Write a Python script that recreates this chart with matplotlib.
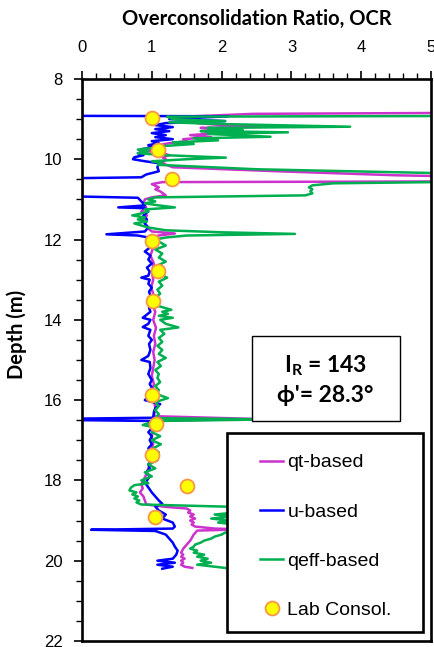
import numpy as np
import matplotlib
matplotlib.use("Agg")
import matplotlib.pyplot as plt
from matplotlib.patches import Rectangle
from matplotlib.ticker import MultipleLocator
from matplotlib.lines import Line2D

plt.rcParams['font.family'] = ['Liberation Sans', 'DejaVu Sans']
plt.rcParams['mathtext.fontset'] = 'custom'
plt.rcParams['mathtext.rm'] = 'Lato'
plt.rcParams['mathtext.bf'] = 'Lato:bold'

# u-based
u_depth = [8.0, 8.92, 8.93, 9.0, 9.05, 9.1, 9.15, 9.2, 9.25, 9.3, 9.35, 9.4, 9.45, 9.5,
           9.55, 9.6, 9.65, 9.7, 9.75, 9.8, 9.85, 9.9, 9.95, 10.0, 10.05, 10.1, 10.2,
           10.3, 10.38, 10.45, 10.47, 10.93, 10.96, 11.05, 11.15, 11.2, 11.22, 11.3,
           11.4, 11.5, 11.6, 11.7, 11.8, 11.87, 11.9, 11.95, 12.0, 12.1, 12.2, 12.3,
           12.4, 12.5, 12.6, 12.7, 12.8, 12.9, 12.95, 13.0, 13.1, 13.2, 13.3, 13.4,
           13.5, 13.6, 13.7, 13.8, 13.95, 14.0, 14.1, 14.18, 14.25, 14.4, 14.5, 14.6,
           14.75, 14.9, 15.0, 15.05, 15.2, 15.35, 15.5, 15.6, 15.75, 15.9, 16.0, 16.1,
           16.2, 16.3, 16.44, 16.46, 16.5, 16.52, 16.6, 16.7, 16.8, 16.9, 17.0, 17.1,
           17.2, 17.3, 17.4, 17.5, 17.6, 17.7, 17.8, 17.9, 18.0, 18.1, 18.2, 18.3,
           18.4, 18.5, 18.58, 18.65, 18.75, 18.85, 18.95, 19.05, 19.15, 19.2, 19.23,
           19.26, 19.35, 19.45, 19.55, 19.65, 19.75, 19.85, 19.95, 20.0, 20.05, 20.1,
           20.15, 20.2]
u_ocr = [0.0, 0.0, 2.1, 1.25, 2.05, 1.2, 1.05, 1.3, 1.05, 1.25, 1.0, 1.2, 1.05, 1.3,
         1.0, 1.1, 0.95, 1.05, 0.85, 0.92, 0.8, 0.88, 0.75, 0.73, 0.9, 1.1, 1.08,
         1.1, 0.92, 0.85, 0.0, 0.0, 0.8, 0.85, 0.9, 0.52, 0.9, 0.95,
         0.88, 0.93, 0.9, 0.95, 0.9, 0.35, 0.8, 0.95, 0.97, 0.95, 0.97, 0.9,
         0.98, 0.95, 1.0, 0.93, 0.97, 0.95, 0.85, 0.97, 0.95, 1.0, 0.96, 0.98,
         0.97, 1.0, 0.96, 0.98, 0.87, 0.98, 0.95, 0.87, 0.98, 0.95, 1.0, 0.96,
         0.98, 0.95, 0.85, 0.97, 0.98, 0.95, 1.0, 0.97, 1.02, 0.96, 0.9, 1.12,
         1.05, 1.03, 1.02, 0.0, 0.0, 1.0, 0.97, 1.0, 0.95, 1.0, 0.97, 1.0,
         0.95, 0.98, 0.96, 1.0, 0.95, 0.97, 0.92, 0.97, 0.93, 0.92, 0.96, 1.0,
         1.05, 1.1, 1.15, 1.05, 1.1, 1.2, 1.15, 1.3, 1.33, 1.3, 0.13,
         1.05, 1.2, 1.25, 1.3, 1.33, 1.37, 1.35, 1.3, 1.08, 1.33, 1.08,
         1.3, 1.15]

# qt-based
qt_depth = [8.84, 8.87, 8.93, 9.0, 9.05, 9.1, 9.15, 9.19, 9.22, 9.26, 9.3, 9.35, 9.4,
            9.45, 9.5, 9.55, 9.6, 9.65, 9.7, 9.75, 9.8, 9.85, 9.9, 9.95, 10.0, 10.1,
            10.2, 10.3, 10.4, 10.45, 10.55, 10.57, 10.62, 10.7, 10.75, 10.8, 10.9,
            10.95, 11.0, 11.1, 11.2, 11.3, 11.4, 11.5, 11.6, 11.7, 11.8, 11.85, 11.9,
            11.95, 12.0, 12.2, 12.4, 12.6, 12.8, 13.0, 13.2, 13.4, 13.6, 13.8, 14.0,
            14.2, 14.4, 14.6, 14.8, 15.0, 15.2, 15.4, 15.6, 15.8, 16.0, 16.2, 16.4,
            16.47, 16.52, 16.7, 16.9, 17.1, 17.3, 17.5, 17.7, 17.85, 18.0, 18.1, 18.2,
            18.3, 18.4, 18.5, 18.6, 18.66, 18.7, 18.75, 18.8, 18.85, 18.9, 18.95, 19.0,
            19.05, 19.1, 19.15, 19.2, 19.22, 19.25, 19.35, 19.5, 19.6, 19.7, 19.8,
            19.85, 19.9, 19.95, 20.0, 20.05, 20.1, 20.15, 20.18]
qt_ocr = [6.0, 2.45, 1.6, 1.6, 1.75, 1.65, 2.0, 2.55, 1.7, 2.1, 1.75, 1.95, 1.55,
          1.85, 1.45, 1.5, 1.25, 1.1, 0.95, 1.05, 0.95, 1.15, 1.25, 1.15, 1.2, 1.15,
          1.3, 2.8, 4.5, 6.0, 6.0, 1.15, 1.0, 1.1, 1.05, 1.12, 1.2,
          1.0, 0.9, 0.88, 0.92, 0.85, 0.93, 0.88, 0.9, 0.93, 1.0, 1.33, 1.1,
          1.0, 1.0, 1.02, 0.98, 1.03, 1.0, 1.02, 0.99, 1.03, 1.0, 1.05, 1.02,
          1.06, 1.03, 1.05, 1.02, 1.04, 1.02, 1.0, 1.03, 1.0, 1.03, 1.05, 1.03,
          2.5, 1.0, 1.02, 1.0, 1.02, 0.98, 1.0, 0.95, 0.92, 0.88, 0.85, 0.87,
          0.83, 0.88, 0.9, 0.92, 1.2, 1.5, 1.55, 1.52, 1.6, 1.55, 1.62, 1.55,
          1.6, 1.57, 1.62, 1.9, 2.3, 1.65, 1.6, 1.55, 1.5, 1.45, 1.42,
          1.45, 1.42, 1.47, 1.42, 1.45, 1.42, 1.47, 1.58]

# qeff-based
qe_depth = [8.88, 8.92, 8.94, 9.0, 9.05, 9.08, 9.12, 9.19, 9.22, 9.27, 9.3, 9.33, 9.37,
            9.44, 9.48, 9.53, 9.58, 9.62, 9.68, 9.72, 9.76, 9.8, 9.85, 9.9, 9.96, 10.0,
            10.05, 10.1, 10.14, 10.25, 10.38, 10.55, 10.6, 10.65, 10.7, 10.75, 10.8,
            10.85, 10.9, 10.95, 11.0, 11.05, 11.1, 11.15, 11.2, 11.25, 11.3, 11.35,
            11.4, 11.45, 11.5, 11.55, 11.6, 11.65, 11.7, 11.77, 11.82, 11.86, 11.9,
            11.95, 12.0, 12.05, 12.15, 12.25, 12.35, 12.45, 12.55, 12.65, 12.75, 12.85,
            12.95, 13.05, 13.15, 13.25, 13.35, 13.45, 13.55, 13.65, 13.75, 13.8, 13.85,
            13.9, 13.95, 14.0, 14.1, 14.19, 14.25, 14.35, 14.45, 14.55, 14.65, 14.75,
            14.85, 14.95, 15.05, 15.15, 15.25, 15.35, 15.45, 15.55, 15.65, 15.75,
            15.85, 15.95, 16.05, 16.15, 16.25, 16.35, 16.45, 16.48, 16.52, 16.62,
            16.7, 16.8, 16.9, 17.0, 17.1, 17.2, 17.3, 17.4, 17.5, 17.6, 17.7, 17.8,
            17.9, 18.0, 18.07, 18.12, 18.18, 18.25, 18.3, 18.35, 18.4, 18.45, 18.5,
            18.55, 18.6, 18.63, 18.66, 18.7, 18.75, 18.8, 18.85, 18.9, 18.95, 19.0,
            19.05, 19.1, 19.15, 19.2, 19.25, 19.3, 19.35, 19.4, 19.45, 19.5, 19.55,
            19.6, 19.65, 19.7, 19.75, 19.8, 19.85, 19.9, 19.95, 20.0, 20.05, 20.1,
            20.15, 20.18]
qe_ocr = [6.0, 6.0, 1.22, 1.3, 2.05, 1.25, 1.9, 3.84, 1.8, 2.3, 1.7, 2.95, 1.8,
          2.7, 1.6, 1.95, 1.3, 1.6, 1.1, 1.0, 0.8, 0.95, 0.8, 1.2, 2.06, 1.5,
          1.0, 1.15, 1.09, 2.5, 6.0, 6.0, 3.6, 3.3, 3.25, 3.3, 3.27,
          3.3, 3.2, 1.05, 0.95, 1.05, 0.9, 1.1, 1.33, 0.9, 0.95, 0.85,
          0.72, 0.9, 0.8, 0.93, 0.75, 0.85, 0.95, 1.2, 2.0, 3.05, 1.5,
          1.2, 1.05, 1.1, 1.2, 1.05, 1.15, 1.1, 1.2, 1.08, 1.15, 1.1,
          1.22, 1.1, 1.15, 1.08, 1.12, 1.05, 1.1, 1.08, 1.28, 1.15, 1.23,
          1.1, 1.3, 1.12, 1.2, 1.38, 1.12, 1.18, 1.1, 1.15, 1.08, 1.15,
          1.1, 1.2, 1.08, 1.13, 1.05, 1.1, 1.08, 1.12, 1.05, 1.1,
          1.07, 1.23, 1.05, 1.1, 1.05, 1.1, 1.05, 2.8, 1.05, 0.87,
          1.1, 1.0, 1.12, 1.0, 1.13, 1.02, 1.1, 1.0, 1.08, 0.95, 1.05, 0.9,
          1.0, 0.85, 0.95, 0.75, 0.7, 0.68, 0.78, 0.72, 0.8, 0.75, 0.82,
          0.78, 0.85, 1.5, 2.2, 2.3, 2.1, 2.2, 1.9, 2.15, 1.85, 2.1,
          1.95, 2.2, 2.1, 2.3, 2.4, 2.05, 2.0, 1.9, 1.85, 1.75, 1.7,
          1.62, 1.6, 1.55, 1.65, 1.6, 1.75, 1.65, 1.8, 1.7, 1.85, 1.65,
          1.9, 2.05]

# Lab consolidation tests
lab_depth = [8.97, 9.77, 10.49, 12.04, 12.79, 13.54, 15.88, 16.6, 17.37, 18.15, 18.92]
lab_ocr = [1.0, 1.09, 1.29, 1.0, 1.09, 1.02, 1.0, 1.06, 1.0, 1.5, 1.05]

fig = plt.figure(figsize=(4.35, 6.47), dpi=100)
ax = fig.add_axes([0.1885, 0.0093, 0.8025, 0.8687])

c_qt = '#CC33CC'
c_u = '#0000FF'
c_qe = '#00B050'

ax.plot(qt_ocr, qt_depth, color=c_qt, lw=1.8, zorder=2)
ax.plot(u_ocr, u_depth, color=c_u, lw=1.8, zorder=2)
ax.plot(qe_ocr, qe_depth, color=c_qe, lw=1.8, zorder=2)
ax.plot(lab_ocr, lab_depth, 'o', ms=10, mfc='#FFFF00', mec='#F79646', mew=1.3,
        zorder=4, clip_on=False)

ax.set_xlim(0, 5)
ax.set_ylim(22, 8)
ax.xaxis.set_major_locator(MultipleLocator(1))
ax.xaxis.set_minor_locator(MultipleLocator(0.2))
ax.yaxis.set_major_locator(MultipleLocator(2))
ax.yaxis.set_minor_locator(MultipleLocator(0.5))
ax.xaxis.tick_top()
ax.tick_params(axis='x', which='both', top=True, bottom=False, direction='out')
ax.tick_params(axis='y', which='both', left=True, right=False, direction='out')
ax.tick_params(which='major', length=6, width=1.2, labelsize=12)
ax.tick_params(which='minor', length=4, width=1.0)
ax.tick_params(axis='x', which='major', pad=11)
ax.tick_params(axis='y', which='major', pad=8)
for s in ax.spines.values():
    s.set_linewidth(1.9)

ax.set_title('Overconsolidation Ratio, OCR', family='Lato', fontweight='bold',
             fontsize=14.5, pad=39)
ax.set_ylabel('Depth (m)', family='Lato', fontweight='bold', fontsize=14.5)
ax.yaxis.set_label_coords(-0.158, 0.545)

# parameter box
ax.add_patch(Rectangle((0.487, 0.391), 0.424, 0.152, transform=ax.transAxes,
                       facecolor='white', edgecolor='black', lw=1.0, zorder=5))
ax.text(0.697, 0.49, r'I$_\mathbf{R}$ = 143', transform=ax.transAxes, ha='center',
        va='center', fontsize=16.5, fontweight='bold', family=['Lato', 'DejaVu Sans'],
        zorder=6)
ax.text(0.697, 0.437, "\u03d5'= 28.3\u00b0", transform=ax.transAxes, ha='center',
        va='center', fontsize=16.5, fontweight='bold', family=['Lato', 'DejaVu Sans'],
        zorder=6)

# legend box
ax.add_patch(Rectangle((0.415, 0.016), 0.562, 0.354, transform=ax.transAxes,
                       facecolor='white', edgecolor='black', lw=1.9, zorder=5))
handles = [Line2D([], [], color=c_qt, lw=1.8),
           Line2D([], [], color=c_u, lw=1.8),
           Line2D([], [], color=c_qe, lw=1.8),
           Line2D([], [], ls='none', marker='o', ms=10, mfc='#FFFF00', mec='#F79646',
                  mew=1.3)]
labels = ['qt-based', 'u-based', 'qeff-based', 'Lab Consol.']
leg = ax.legend(handles, labels, loc='upper left', bbox_to_anchor=(0.51, 0.333),
                frameon=False, fontsize=14, handlelength=1.2, handletextpad=0.2,
                labelspacing=1.62, borderpad=0.0, borderaxespad=0.0)
leg.set_zorder(6)

fig.savefig('out.png', dpi=100)
